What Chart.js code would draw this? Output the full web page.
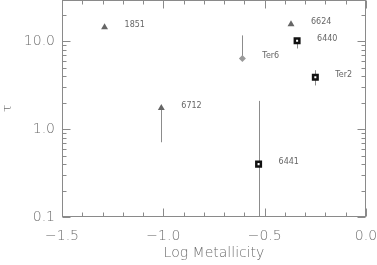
<!DOCTYPE html>
<html>
<head>
<meta charset="utf-8">
<script src="https://cdn.jsdelivr.net/npm/chart.js@4/dist/chart.umd.min.js"></script>
<style>
  html, body { margin: 0; padding: 0; background: #fff; overflow: hidden; }
  #wrap { width: 377px; height: 272px; margin-top: -7px; }
</style>
</head>
<body>
<div id="wrap"><canvas id="tau-chart"></canvas></div>
<script>
// cluster values
var triNames = ["1851", "6712", "6624"];
var triMetal = [-1.29, -1.01, -0.37];
var triTau = [14.5, 1.74, 15.7];

var sqNames = ["6440", "Ter2", "6441"];
var sqMetal = [-0.34, -0.25, -0.53];
var sqTau = [10.2, 3.9, 0.40];

var diaNames = ["Ter6"];
var diaMetal = [-0.61];
var diaTau = [6.4];

// error bars: [metallicity, low, high]
var errMetal = [-1.01, -0.61, -0.34, -0.25, -0.53];
var errLow = [0.71, 6.4, 8.3, 3.15, 0.05];
var errHigh = [1.74, 11.7, 10.2, 4.7, 2.1];

var xTicks = [-1.5, -1.0, -0.5, 0.0];
var yTicks = [0.1, 1, 10];
var yTickLabels = ["0.1", "1.0", "10.0"];

function pts(xs, ys) {
  return xs.map(function (x, i) { return { x: x, y: ys[i] }; });
}

var axisGray = "#8a8a8a";
var textGray = "#6e6e6e";
var thinFont = { family: "DejaVu Sans", size: 14, weight: "200" };

// box, inward ticks, error bars and point labels
var decor = {
  id: "decor",
  beforeDatasetsDraw: function (chart) {
    var c = chart.ctx, a = chart.chartArea;
    var xs = chart.scales.x, ys = chart.scales.y;
    c.save();
    c.beginPath();
    c.rect(a.left, a.top, a.right - a.left, a.bottom - a.top);
    c.clip();
    c.strokeStyle = "#8c8c8c";
    c.lineWidth = 1;
    errMetal.forEach(function (m, i) {
      var px = Math.round(xs.getPixelForValue(m)) + 0.5;
      c.beginPath();
      c.moveTo(px, ys.getPixelForValue(errLow[i]));
      c.lineTo(px, ys.getPixelForValue(errHigh[i]));
      c.stroke();
    });
    c.restore();
  },
  afterDatasetsDraw: function (chart) {
    var c = chart.ctx, a = chart.chartArea;
    var xs = chart.scales.x, ys = chart.scales.y;
    c.save();
    c.strokeStyle = axisGray;
    c.lineWidth = 1;
    var L = Math.round(a.left) + 0.5, R = Math.round(a.right) - 0.5;
    var T = Math.round(a.top) + 0.5, B = Math.round(a.bottom) - 0.5;
    c.strokeRect(L, T, R - L, B - T);

    // x ticks (0.1 steps, major every 0.5)
    for (var k = -15; k <= 0; k++) {
      var v = k / 10;
      var px = Math.round(xs.getPixelForValue(v)) + 0.5;
      var len = (k % 5 === 0) ? 8 : 4;
      c.beginPath();
      c.moveTo(px, B); c.lineTo(px, B - len);
      c.moveTo(px, T); c.lineTo(px, T + len);
      c.stroke();
    }
    // y ticks (log)
    [0.1, 1, 10].forEach(function (dec) {
      for (var m = 1; m <= 9; m++) {
        var val = dec * m;
        if (val > ys.max) break;
        var py = Math.round(ys.getPixelForValue(val)) + 0.5;
        var len2 = (m === 1) ? 8 : 4;
        c.beginPath();
        c.moveTo(L, py); c.lineTo(L + len2, py);
        c.moveTo(R, py); c.lineTo(R - len2, py);
        c.stroke();
      }
    });

    // point labels
    c.fillStyle = "#666";
    c.font = "8px 'DejaVu Sans'";
    c.textAlign = "left";
    c.textBaseline = "middle";
    var groups = [triNames, sqNames, diaNames];
    groups.forEach(function (names, di) {
      chart.getDatasetMeta(di).data.forEach(function (el, i) {
        c.fillText(names[i], el.x + 20, el.y - 2);
      });
    });
    c.restore();
  }
};

var ctx = document.getElementById("tau-chart");

var tauChart = new Chart(ctx, {
  type: "scatter",
  data: {
    datasets: [
      {
        label: "triangles",
        data: pts(triMetal, triTau),
        pointStyle: "triangle",
        radius: 4,
        backgroundColor: "#666",
        borderColor: "#666",
        borderWidth: 0,
      },
      {
        label: "squares",
        data: pts(sqMetal, sqTau),
        pointStyle: "rect",
        radius: 3.2,
        backgroundColor: "#fff",
        borderColor: "#111",
        borderWidth: 2.5,
      },
      {
        label: "diamond",
        data: pts(diaMetal, diaTau),
        pointStyle: "rectRot",
        radius: 3.5,
        backgroundColor: "#9a9a9a",
        borderColor: "#9a9a9a",
        borderWidth: 0,
      },
    ],
  },
  options: {
    responsive: true,
    maintainAspectRatio: false,
    animation: false,
    layout: { padding: { top: 1, right: 11, left: 0, bottom: 0 } },
    plugins: { legend: { display: false }, tooltip: { enabled: false } },
    scales: {
      x: {
        type: "linear",
        min: -1.5,
        max: 0,
        afterBuildTicks: function (s) {
          s.ticks = xTicks.map(function (v) { return { value: v }; });
        },
        afterFit: function (s) {
          s.height = 48;
          s.paddingLeft = 0;
          s.paddingRight = 0;
        },
        grid: { display: false, drawTicks: false },
        border: { display: false },
        ticks: {
          padding: 11,
          color: textGray,
          font: thinFont,
          maxRotation: 0,
          callback: function (v) {
            var s = Math.abs(v).toFixed(1);
            return v < 0 ? "\u2212" + s : s;
          },
        },
        title: {
          display: true,
          text: "Log Metallicity",
          color: textGray,
          font: thinFont,
          padding: { top: 0, bottom: 3 },
        },
      },
      y: {
        type: "logarithmic",
        min: 0.1,
        max: 30,
        afterBuildTicks: function (s) {
          s.ticks = yTicks.map(function (v) { return { value: v }; });
        },
        afterFit: function (s) {
          s.width = 62;
          s.paddingTop = 0;
          s.paddingBottom = 0;
        },
        grid: { display: false, drawTicks: false },
        border: { display: false },
        ticks: {
          padding: 7,
          color: textGray,
          font: thinFont,
          callback: function (v) {
            var i = yTicks.indexOf(v);
            return i >= 0 ? yTickLabels[i] : "";
          },
        },
        title: {
          display: true,
          text: "\u03c4",
          color: textGray,
          font: { family: "DejaVu Sans", size: 13, weight: "200" },
          padding: { top: 0, bottom: 0 },
        },
      },
    },
  },
  plugins: [decor],
});
</script>
</body>
</html>
